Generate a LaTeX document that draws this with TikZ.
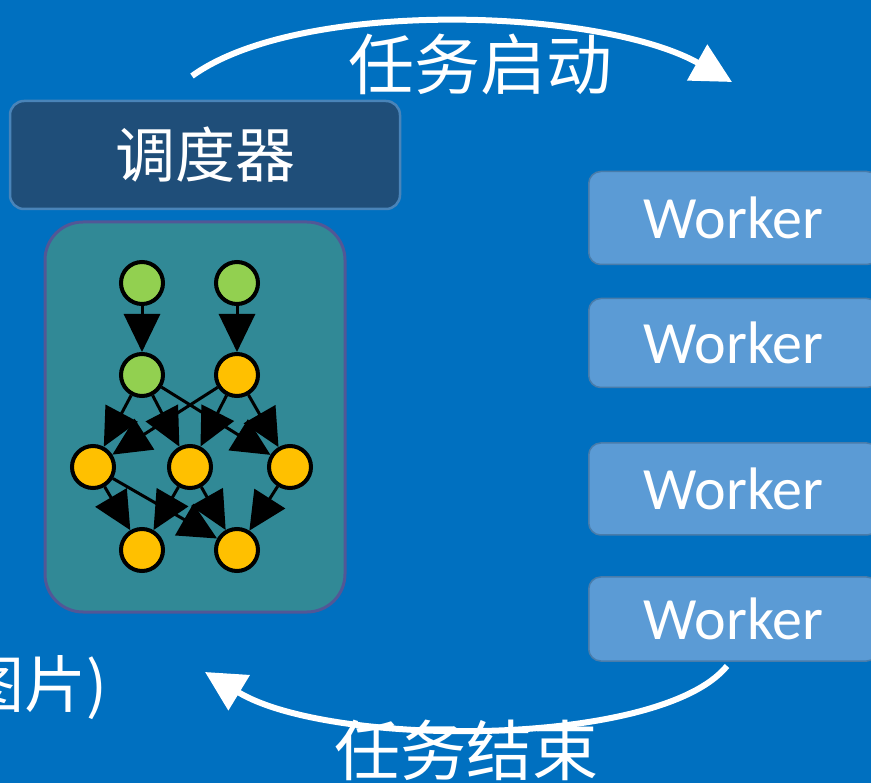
\documentclass[tikz,border=0pt]{standalone}
\usepackage{fontspec}
\setmainfont{Carlito}
\newfontfamily\cjk{Noto Sans CJK SC}
\usetikzlibrary{arrows.meta}

\definecolor{fondo}{RGB}{0,112,192}
\definecolor{azuloscuro}{RGB}{31,78,121}
\definecolor{azulclaro}{RGB}{91,155,213}
\definecolor{verdeazul}{RGB}{49,137,150}
\definecolor{verde}{RGB}{146,208,80}
\definecolor{naranja}{RGB}{255,192,0}

\tikzset{
  nodo/.style={circle, draw=black, line width=4pt, minimum size=42pt, inner sep=0pt},
  nodoverde/.style={nodo, fill=verde},
  nodonaranja/.style={nodo, fill=naranja},
  flecha/.style={-{Triangle[length=38pt,width=36pt]}, line width=3pt},
  trabajador/.style={draw=azulclaro!80!black, line width=1.5pt, fill=azulclaro,
    rounded corners=12pt, minimum width=290pt, anchor=west, text=white,
    font=\fontsize{60}{66}\selectfont},
  grande/.style={-{Triangle[length=40pt,width=40pt]}, white, line width=6pt},
  letrero/.style={text=white, font=\cjk\fontsize{66}{70}\selectfont, inner sep=0pt}
}

\begin{document}
\begin{tikzpicture}[x=1pt,y=-1pt]
    % Fondo
    \useasboundingbox (0,0) rectangle (871,783);
    \clip (0,0) rectangle (871,783);
    \fill[fondo] (0,0) rectangle (871,783);

    % Planificador
    \node[draw=azulclaro!70!azuloscuro, line width=2.5pt, fill=azuloscuro, rounded corners=14pt,
      minimum width=390pt, minimum height=108pt, text=white,
      font=\cjk\fontsize{60}{66}\selectfont] (sched) at (205,155) {调度器};

    % Caja del grafo
    \draw[draw=violet!30!azulclaro!80!black, line width=3pt, fill=verdeazul, rounded corners=38pt]
      (45,222) rectangle (345,612);

    % Nodos del grafo
    \node[nodoverde] (a1) at (142,283) {};
    \node[nodoverde] (a2) at (237,283) {};
    \node[nodoverde] (b1) at (142,375) {};
    \node[nodonaranja] (b2) at (237,375) {};
    \node[nodonaranja] (c1) at (93,467) {};
    \node[nodonaranja] (c2) at (190,467) {};
    \node[nodonaranja] (c3) at (290,467) {};
    \node[nodonaranja] (d1) at (142,550) {};
    \node[nodonaranja] (d2) at (237,550) {};

    % Aristas
    \draw[flecha] (a1) -- (b1);
    \draw[flecha] (a2) -- (b2);
    \foreach \o in {b1,b2} {
      \foreach \d in {c1,c2,c3} {
        \draw[flecha] (\o) -- (\d);
      }
    }
    \draw[flecha] (c1) -- (d1);
    \draw[flecha] (c1) -- (d2);
    \draw[flecha] (c2) -- (d1);
    \draw[flecha] (c2) -- (d2);
    \draw[flecha] (c3) -- (d2);

    % Trabajadores
    \node[trabajador, minimum height=93pt] (w1) at (588,218) {Worker};
    \node[trabajador, minimum height=89pt] (w2) at (588,343) {Worker};
    \node[trabajador, minimum height=92pt] (w3) at (588,489) {Worker};
    \node[trabajador, minimum height=84pt] (w4) at (588,619) {Worker};

    % Flechas curvas
    \coordinate (ini) at (192,76);
    \coordinate (fin) at (732,82);
    \draw[grande] (ini) .. controls (300,-2) and (600,8) .. (fin);
    \node[letrero] (arranque) at (480,64) {任务启动};

    \coordinate (ini2) at (727,666);
    \coordinate (fin2) at (205,672);
    \draw[grande] (ini2) .. controls (660,748) and (330,748) .. (fin2);
    \node[letrero] (final) at (466,750) {任务结束};

    \node[letrero, anchor=west, font=\cjk\fontsize{62}{66}\selectfont] (imagen) at (-38,688) {图片)};
\end{tikzpicture}
\end{document}
